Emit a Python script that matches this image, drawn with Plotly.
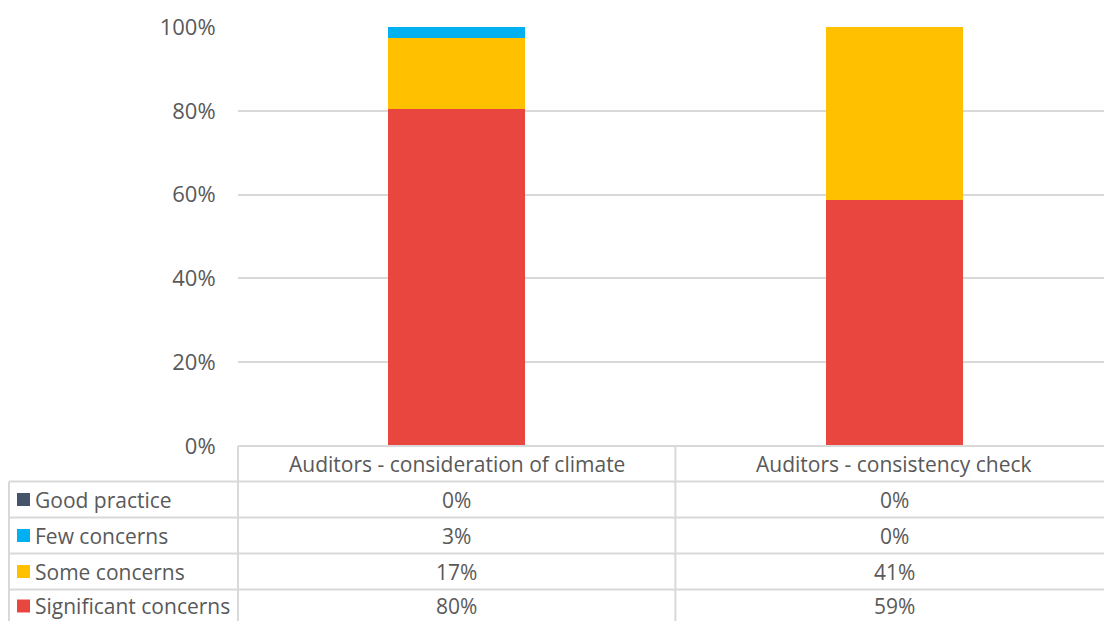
import plotly.graph_objects as go

categories = ["Auditors - consideration of climate", "Auditors - consistency check"]
series_names = ["Good practice", "Few concerns", "Some concerns", "Significant concerns"]
good_practice = [0.0, 0.0]
few_concerns = [2.6, 0.0]
some_concerns = [17.0, 41.2]
significant_concerns = [80.4, 58.8]
y_ticks = [0, 20, 40, 60, 80, 100]
y_tick_labels = ["0%", "20%", "40%", "60%", "80%", "100%"]

colors = {
    "Good practice": "#44546A",
    "Few concerns": "#00B0F0",
    "Some concerns": "#FFC000",
    "Significant concerns": "#E8463E",
}
values = {
    "Good practice": good_practice,
    "Few concerns": few_concerns,
    "Some concerns": some_concerns,
    "Significant concerns": significant_concerns,
}

W, H = 1104, 621
L, T, B = 238, 27, 175
PLOT_H = H - T - B
PLOT_W = W - L
FONT = "Open Sans"
TXT = "#595959"
LINE = "#D9D9D9"


def py(p):
    # pixel row -> paper y
    return (H - B - p) / PLOT_H


def px(p):
    return (p - L) / PLOT_W


fig = go.Figure()
# stack from bottom: significant, some, few, good
for name in reversed(series_names):
    fig.add_trace(
        go.Bar(
            x=categories,
            y=values[name],
            name=name,
            marker=dict(color=colors[name], line=dict(width=0)),
            showlegend=False,
        )
    )

shapes = []
annotations = []
row_lines = [446, 481.5, 517.5, 553.5, 589.5]
for y in row_lines:
    x0 = 238 if y == 446 else 9
    shapes.append(dict(type="line", xref="paper", yref="paper", x0=px(x0), x1=1,
                       y0=py(y), y1=py(y), line=dict(color=LINE, width=2)))
for x, ytop in [(9, 481.5), (238, 446)]:
    shapes.append(dict(type="line", xref="paper", yref="paper", x0=px(x), x1=px(x),
                       y0=py(ytop), y1=py(H + 2), line=dict(color=LINE, width=2)))
# column divider between the two categories
shapes.append(dict(type="line", xref="x", yref="paper", x0=0.5, x1=0.5,
                   y0=py(446), y1=py(H + 2), line=dict(color=LINE, width=2)))

cell_font = dict(size=21, color=TXT, family=FONT)

# header row with category names
for cat in categories:
    annotations.append(dict(x=cat, y=py(463.5), xref="x", yref="paper", text=cat,
                            xanchor="center", yanchor="middle",
                            showarrow=False, font=cell_font))

row_centers = [499.5, 535.5, 571.5, 606]
for name, yc in zip(series_names, row_centers):
    shapes.append(dict(type="rect", xref="paper", yref="paper",
                       x0=px(17), x1=px(30), y0=py(yc - 6.5), y1=py(yc + 6.5),
                       fillcolor=colors[name], line=dict(width=0)))
    annotations.append(dict(x=px(33), y=py(yc), xref="paper", yref="paper", text=name,
                            xanchor="left", yanchor="middle", showarrow=False,
                            font=cell_font))
    for cat, v in zip(categories, values[name]):
        annotations.append(dict(x=cat, y=py(yc), xref="x", yref="paper",
                                text=f"{round(v):.0f}%", showarrow=False,
                                xanchor="center", yanchor="middle",
                                font=cell_font))

fig.update_layout(
    width=W,
    height=H,
    margin=dict(l=L, r=0, t=T, b=B),
    barmode="stack",
    bargap=0.687,
    plot_bgcolor="white",
    paper_bgcolor="white",
    font=dict(family=FONT, color=TXT, size=21),
    shapes=shapes,
    annotations=annotations,
)
# chart area runs a little past the right edge of the image, hence 1.48
fig.update_xaxes(showticklabels=False, showgrid=False, zeroline=False,
                 range=[-0.5, 1.48], fixedrange=True)
fig.update_yaxes(range=[0, 100], tickvals=y_ticks, ticktext=y_tick_labels,
                 gridcolor=LINE, gridwidth=2, zeroline=False,
                 ticks="outside", ticklen=17, tickcolor="rgba(0,0,0,0)",
                 tickfont=dict(size=22, color=TXT, family=FONT))

fig.write_html("out.html", config={"displayModeBar": False},
               post_script="document.body.style.margin='0';")
